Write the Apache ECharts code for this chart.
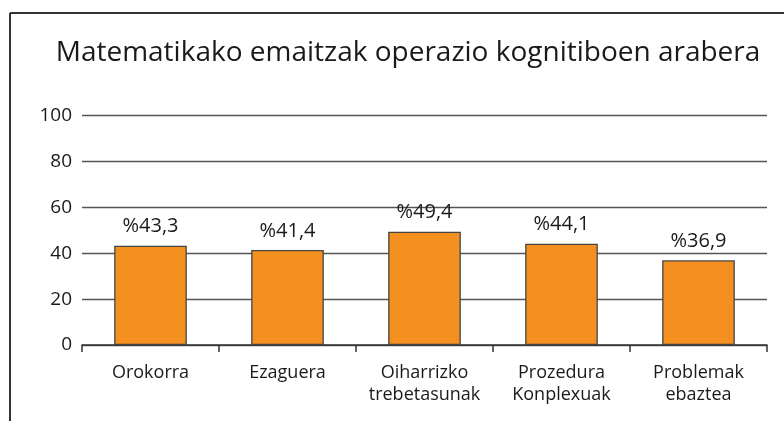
<!DOCTYPE html>
<html>
<head>
<meta charset="utf-8">
<script src="https://cdn.jsdelivr.net/npm/echarts@6/dist/echarts.min.js"></script>
<style>
html,body{margin:0;padding:0;background:#fff;}
#chart{width:784px;height:421px;}
</style>
</head>
<body>
<div id="chart"></div>
<script>
const titleText = 'Matematikako emaitzak operazio kognitiboen arabera';
const categories = ['Orokorra', 'Ezaguera', 'Oiharrizko\ntrebetasunak', 'Prozedura\nKonplexuak', 'Problemak\nebaztea'];
const values = [43.3, 41.4, 49.4, 44.1, 36.9];
const yTicks = [0, 20, 40, 60, 80, 100];

const font = 'Open Sans';
const chart = echarts.init(document.getElementById('chart'), null, {renderer: 'canvas'});
chart.setOption({
  animation: false,
  backgroundColor: '#ffffff',
  title: {
    text: titleText,
    left: 403, top: 34, textAlign: 'center',
    textStyle: {fontFamily: font, fontSize: 28, fontWeight: 'normal', color: '#1a1a1a'}
  },
  graphic: [
    {type: 'line', shape: {x1: 10, y1: 13, x2: 784, y2: 13}, style: {stroke: '#333', lineWidth: 2}},
    {type: 'line', shape: {x1: 10, y1: 13, x2: 10, y2: 421}, style: {stroke: '#333', lineWidth: 2}}
  ],
  grid: {left: 82, right: 17, top: 115.5, bottom: 76, containLabel: false},
  xAxis: {
    type: 'category',
    data: categories,
    axisLine: {lineStyle: {color: '#333', width: 1.5}},
    axisTick: {show: true, length: 7, lineStyle: {color: '#333', width: 1.5}},
    axisLabel: {fontFamily: font, fontSize: 18, color: '#1a1a1a', margin: 17, lineHeight: 22, interval: 0}
  },
  yAxis: {
    type: 'value',
    min: yTicks[0], max: yTicks[yTicks.length - 1], interval: 20,
    axisLine: {show: false},
    axisTick: {show: false},
    splitLine: {lineStyle: {color: '#555', width: 1.3}},
    axisLabel: {fontFamily: font, fontSize: 19, color: '#1a1a1a', margin: 10,
      formatter: v => yTicks.includes(v) ? String(v) : ''}
  },
  series: [{
    type: 'bar',
    data: values,
    barWidth: '53%',
    itemStyle: {color: '#F39020', borderColor: '#444', borderWidth: 1.3},
    label: {
      show: true, position: 'top', distance: 9,
      fontFamily: font, fontSize: 20, color: '#1a1a1a',
      formatter: p => '%' + String(p.value).replace('.', ',')
    }
  }]
});
</script>
</body>
</html>
